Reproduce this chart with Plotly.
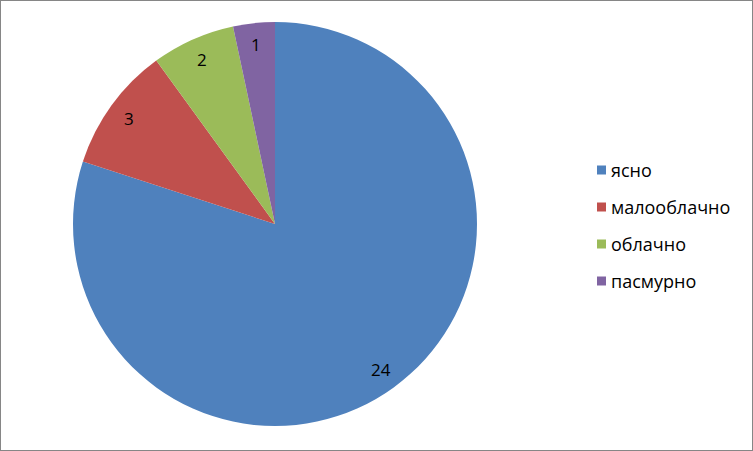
import math
import plotly.graph_objects as go

categories = ["ясно", "малооблачно", "облачно", "пасмурно"]
values = [24, 3, 2, 1]
colors = ["#4F81BD", "#C0504D", "#9BBB59", "#8064A2"]

W, H = 753, 451
cx, cy, R = 275, 224, 202
label_r = 180

fig = go.Figure()
fig.add_trace(go.Pie(
    labels=categories, values=values, sort=False, direction="clockwise",
    rotation=0, marker=dict(colors=colors, line=dict(width=0)),
    textinfo="none", hoverinfo="label+value", showlegend=False,
    domain=dict(x=[(cx - R) / W, (cx + R) / W], y=[(H - cy - R) / H, (H - cy + R) / H]),
))

annotations = []
total = sum(values)
cum = 0
for v in values:
    mid = (cum + v / 2) / total * 2 * math.pi
    cum += v
    x = cx + label_r * math.sin(mid)
    y = cy - label_r * math.cos(mid)
    annotations.append(dict(x=x / W, y=1 - y / H, xref="paper", yref="paper",
                            xanchor="center", yanchor="middle",
                            text=str(v), showarrow=False,
                            font=dict(size=17, color="#000000")))

shapes = [dict(type="rect", xref="paper", yref="paper", x0=0, y0=0, x1=1, y1=1,
               line=dict(color="#868686", width=2))]
leg_x, leg_y0, leg_dy, sq = 597, 170, 37, 9
for i, (c, col) in enumerate(zip(categories, colors)):
    yy = leg_y0 + i * leg_dy
    shapes.append(dict(type="rect", xref="paper", yref="paper",
                       x0=leg_x / W, x1=(leg_x + sq) / W,
                       y0=1 - (yy + sq / 2) / H, y1=1 - (yy - sq / 2) / H,
                       fillcolor=col, line=dict(width=0)))
    annotations.append(dict(x=(leg_x + sq + 3) / W, y=1 - yy / H, xref="paper", yref="paper",
                            text=c, showarrow=False, xanchor="left", yanchor="middle",
                            font=dict(size=18, color="#000000")))

fig.update_layout(
    width=W, height=H, margin=dict(l=0, r=0, t=0, b=0),
    paper_bgcolor="white", plot_bgcolor="white",
    font=dict(family="Open Sans, Noto Sans, sans-serif"),
    annotations=annotations, shapes=shapes,
)
fig.write_html("out.html", config={"displayModeBar": False},
               post_script="document.body.style.margin='0';")
